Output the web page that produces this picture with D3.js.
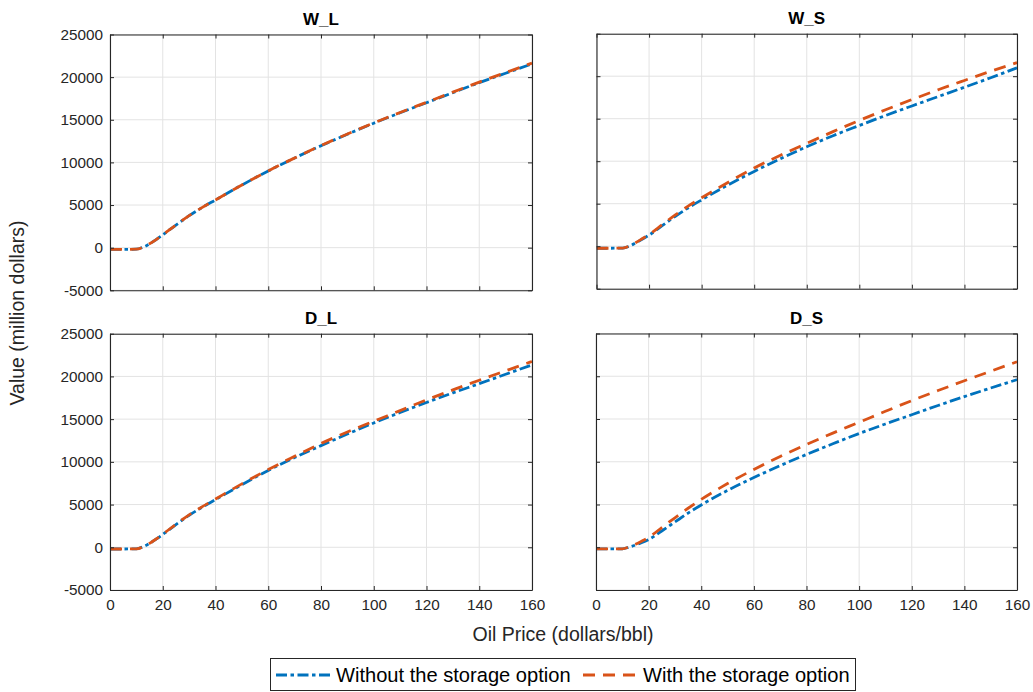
<!DOCTYPE html>
<html><head><meta charset="utf-8">
<script src="https://cdn.jsdelivr.net/npm/d3@7"></script>
<style>
body{margin:0;background:#fff;}
svg{display:block;font-family:"Liberation Sans",Arial,Helvetica,sans-serif;}
</style></head>
<body>
<svg id="chart" width="1033" height="692"></svg>
<script>
// ---- data ----
const oilPrice = [0,5,10,12.5,15,17.5,20,25,30,35,40,50,60,70,80,90,100,110,120,130,140,150,160];
const panelTitles = ["W_L","W_S","D_L","D_S"];
const seriesNames = ["Without the storage option","With the storage option"];
const wlWithout = [-200,-200,-180,50,450,950,1500,2650,3750,4720,5600,7350,9000,10520,11950,13300,14600,15820,17000,18180,19350,20460,21550];
const wlWith    = [-200,-200,-180,50,450,950,1500,2650,3750,4720,5600,7350,9000,10520,11980,13330,14630,15860,17050,18240,19420,20540,21650];
const wsWithout = [-240,-240,-220,0,400,850,1300,2420,3520,4530,5450,7200,8800,10300,11700,13000,14200,15380,16500,17600,18700,19820,20980];
const wsWith    = [-240,-240,-220,20,430,900,1380,2530,3680,4740,5700,7500,9200,10700,12100,13480,14800,16050,17250,18400,19500,20580,21600];
const dlWithout = [-200,-200,-180,50,450,950,1500,2650,3750,4700,5580,7330,9000,10500,11900,13250,14550,15780,16950,18080,19150,20250,21350];
const dlWith    = [-200,-200,-180,50,460,970,1530,2700,3800,4760,5650,7420,9100,10650,12150,13500,14750,16000,17250,18420,19550,20650,21750];
const dsWithout = [-200,-200,-180,0,250,560,900,1900,2950,4000,4950,6650,8150,9550,10850,12100,13300,14420,15500,16580,17620,18620,19600];
const dsWith    = [-200,-200,-180,40,350,730,1150,2300,3450,4560,5600,7450,9100,10620,12020,13350,14620,15900,17150,18330,19470,20590,21700];
const xTicks = [0,20,40,60,80,100,120,140,160];
const yTicks = [-5000,0,5000,10000,15000,20000,25000];

const panelSeries = [[wlWithout,wlWith],[wsWithout,wsWith],[dlWithout,dlWith],[dsWithout,dsWith]];

// ---- layout / style ----
const colors = ["#0072BD","#D95319"];
const dashes = ["11,3.5,3.5,3.5","12,8"];
const boxes = [
  {x0:110, x1:532, y0:34.5, y1:290.3, xl:false, yl:true},
  {x0:596.5, x1:1017, y0:33.7, y1:288.7, xl:false, yl:false},
  {x0:110, x1:532, y0:333.7, y1:590, xl:true, yl:true},
  {x0:596, x1:1017, y0:333.5, y1:590, xl:true, yl:false}
];
const axisColor = "#262626";
const fmt = d => String(d);
const svg = d3.select("#chart");

boxes.forEach((b,i)=>{
  const x = d3.scaleLinear().domain([0,160]).range([b.x0,b.x1]);
  const y = d3.scaleLinear().domain([-5000,25000]).range([b.y1,b.y0]);
  const g = svg.append("g");
  // grid
  g.append("g").selectAll("line.gx").data(xTicks).join("line")
    .attr("x1",d=>x(d)).attr("x2",d=>x(d)).attr("y1",b.y0).attr("y2",b.y1)
    .attr("stroke","#e3e3e3").attr("stroke-width",1);
  g.append("g").selectAll("line.gy").data(yTicks).join("line")
    .attr("y1",d=>y(d)).attr("y2",d=>y(d)).attr("x1",b.x0).attr("x2",b.x1)
    .attr("stroke","#e3e3e3").attr("stroke-width",1);
  // lines
  const line = d3.line().x((d,k)=>x(oilPrice[k])).y(d=>y(d)).curve(d3.curveMonotoneX);
  const clipId = "clip"+i;
  svg.append("clipPath").attr("id",clipId).append("rect")
    .attr("x",b.x0).attr("y",b.y0-3).attr("width",b.x1-b.x0+2).attr("height",b.y1-b.y0+6);
  panelSeries[i].forEach((s,k)=>{
    g.append("path").attr("d",line(s)).attr("fill","none")
      .attr("stroke",colors[k]).attr("stroke-width",2.8)
      .attr("stroke-dasharray",dashes[k]).attr("clip-path",`url(#${clipId})`);
  });
  // axes (box + inward ticks)
  const tl = 4;
  const ax = g.append("g");
  ax.append("g").attr("transform",`translate(0,${b.y1})`)
    .call(d3.axisBottom(x).tickValues(xTicks).tickSizeInner(-tl).tickSizeOuter(0).tickPadding(9)
      .tickFormat(b.xl?fmt:()=>""));
  ax.append("g").attr("transform",`translate(0,${b.y0})`)
    .call(d3.axisTop(x).tickValues(xTicks).tickSizeInner(-tl).tickSizeOuter(0).tickFormat(()=>""));
  ax.append("g").attr("transform",`translate(${b.x0},0)`)
    .call(d3.axisLeft(y).tickValues(yTicks).tickSizeInner(-tl).tickSizeOuter(0).tickPadding(7)
      .tickFormat(b.yl?fmt:()=>""));
  ax.append("g").attr("transform",`translate(${b.x1},0)`)
    .call(d3.axisRight(y).tickValues(yTicks).tickSizeInner(-tl).tickSizeOuter(0).tickFormat(()=>""));
  ax.selectAll("path.domain").attr("stroke",axisColor).attr("stroke-width",1.1);
  ax.selectAll(".tick line").attr("stroke",axisColor);
  ax.selectAll(".tick text").attr("fill",axisColor).style("font-size","15.3px")
    .style("font-family",'"Liberation Sans",Arial,sans-serif');
  // title
  svg.append("text").attr("x",(b.x0+b.x1)/2).attr("y",b.y0-10).attr("text-anchor","middle")
    .style("font-weight","bold").style("font-size","17px").attr("fill","#000").text(panelTitles[i]);
});

// axis labels
svg.append("text").attr("transform","translate(24,313) rotate(-90)").attr("text-anchor","middle")
  .style("font-size","19.5px").attr("fill",axisColor).text("Value (million dollars)");
svg.append("text").attr("x",563).attr("y",641).attr("text-anchor","middle")
  .style("font-size","19.5px").attr("fill",axisColor).text("Oil Price (dollars/bbl)");

// legend
const lg = svg.append("g");
lg.append("rect").attr("x",270.5).attr("y",658.5).attr("width",585).attr("height",32)
  .attr("fill","#fff").attr("stroke","#262626").attr("stroke-width",1);
const legendItems = [{x1:276,x2:332,tx:336},{x1:583,x2:640,tx:643}];
legendItems.forEach((it,k)=>{
  lg.append("line").attr("x1",it.x1).attr("x2",it.x2).attr("y1",675).attr("y2",675)
    .attr("stroke",colors[k]).attr("stroke-width",2.8).attr("stroke-dasharray",dashes[k]);
  lg.append("text").attr("x",it.tx).attr("y",682).style("font-size","20.1px").attr("fill","#000")
    .text(seriesNames[k]);
});
</script>
</body></html>
